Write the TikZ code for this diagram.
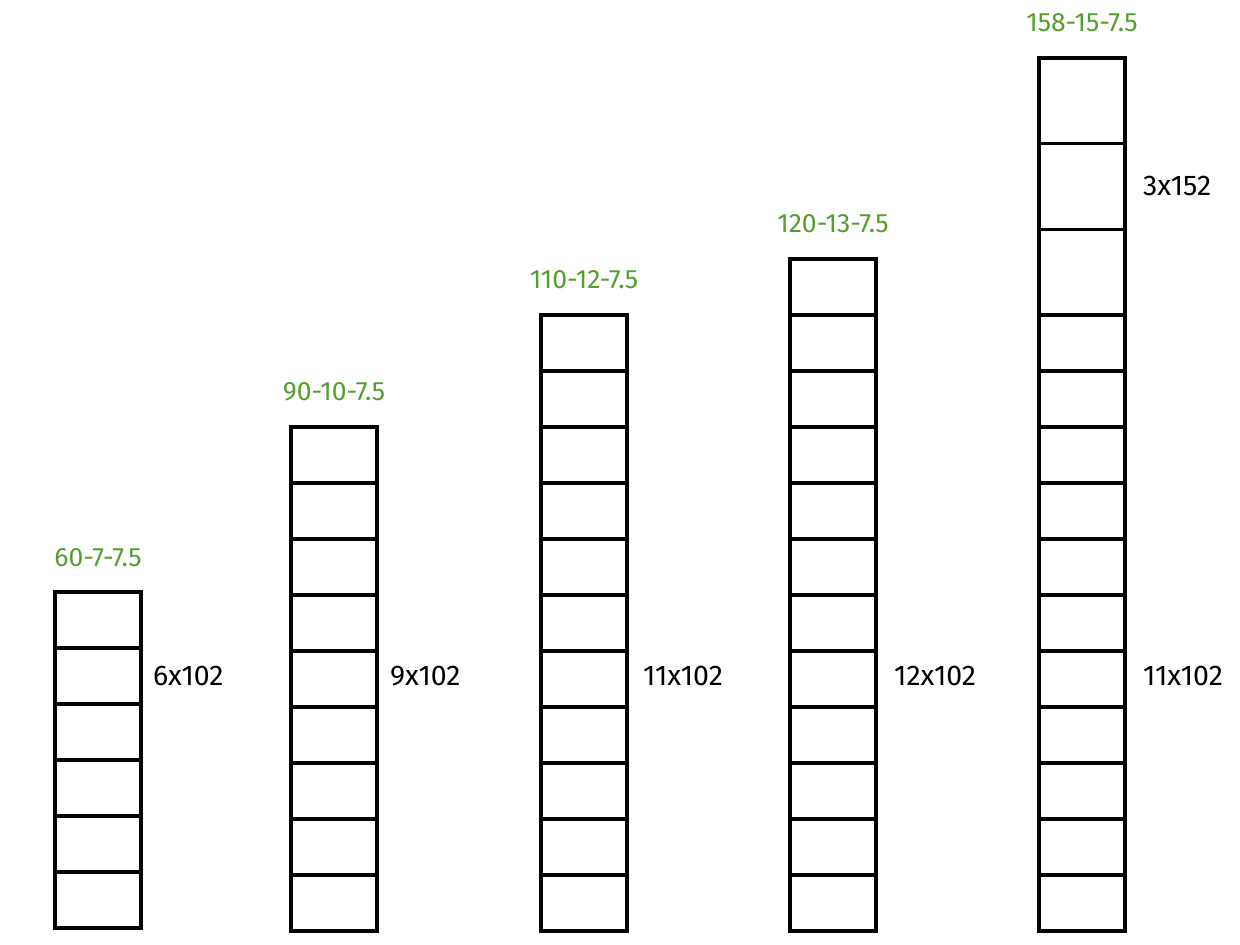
\documentclass[tikz,border=0pt]{standalone}
\usepackage{fontspec}
\setmainfont{Fira Sans}
\definecolor{lblgreen}{RGB}{84,158,48}
\begin{document}
\begin{tikzpicture}[x=1pt,y=-1pt,
  cell/.style={draw=black,line width=3.6pt,minimum width=86pt,inner sep=0pt,outer sep=0pt,anchor=north west},
  small/.style={cell,minimum height=56pt},
  big/.style={cell,minimum height=85.67pt},
  green lbl/.style={text=lblgreen,font=\fontsize{26.5}{30}\selectfont,inner sep=0pt},
  dim lbl/.style={text=black,font=\fontsize{28.5}{32}\selectfont,inner sep=0pt,anchor=west}]
\useasboundingbox (0,0) rectangle (1240,945);
% column 1
\foreach \i in {0,...,5} \node[small] (a\i) at (55,{592+56*\i}) {};
% column 2
\foreach \i in {0,...,8} \node[small] (b\i) at (291,{427+56*\i}) {};
% column 3
\foreach \i in {0,...,10} \node[small] (c\i) at (541,{315+56*\i}) {};
% column 4
\foreach \i in {0,...,11} \node[small] (d\i) at (790,{259+56*\i}) {};
% column 5
\foreach \i in {0,...,2} \node[big] (e\i) at (1039,{58+85.67*\i}) {};
\foreach \i in {0,...,10} \node[small] (f\i) at (1039,{315+56*\i}) {};
% labels
\node[green lbl] (g1) at (98,558) {60-7-7.5};
\node[green lbl] (g2) at (334,392) {90-10-7.5};
\node[green lbl] (g3) at (584,280) {110-12-7.5};
\node[green lbl] (g4) at (833,224) {120-13-7.5};
\node[green lbl] (g5) at (1082,23) {158-15-7.5};
\node[dim lbl] (l1) at (153,676) {6x102};
\node[dim lbl] (l2) at (390,676) {9x102};
\node[dim lbl] (l3) at (643,676) {11x102};
\node[dim lbl] (l4) at (894,676) {12x102};
\node[dim lbl] (l5) at (1143,186) {3x152};
\node[dim lbl] (l6) at (1143,676) {11x102};
\end{tikzpicture}
\end{document}
